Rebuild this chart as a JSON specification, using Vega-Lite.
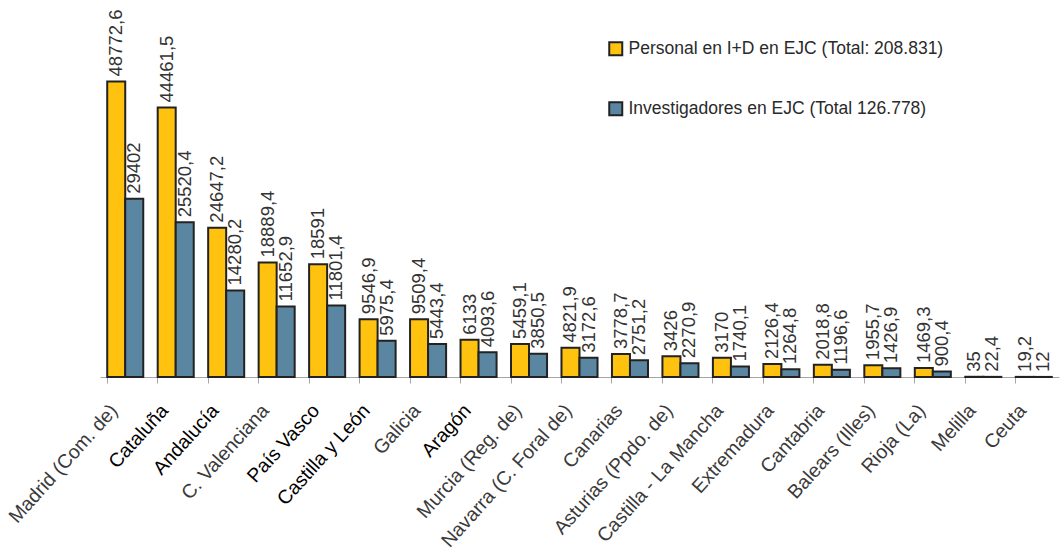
{
  "$schema": "https://vega.github.io/schema/vega-lite/v6.json",
  "width": 959,
  "height": 303,
  "autosize": "none",
  "padding": {"left": 100, "top": 74, "right": 3, "bottom": 176},
  "background": "white",
  "config": {
    "view": {"stroke": null},
    "font": "Liberation Sans",
    "locale": {"number": {"decimal": ",", "thousands": ".", "grouping": [3], "currency": ["", "€"]}}
  },
  "data": {"values": [
    {"region": "Madrid (Com. de)", "serie": "Personal en I+D en EJC (Total: 208.831)", "v": 48772.6},
    {"region": "Madrid (Com. de)", "serie": "Investigadores en EJC (Total 126.778)", "v": 29402},
    {"region": "Cataluña", "serie": "Personal en I+D en EJC (Total: 208.831)", "v": 44461.5},
    {"region": "Cataluña", "serie": "Investigadores en EJC (Total 126.778)", "v": 25520.4},
    {"region": "Andalucía", "serie": "Personal en I+D en EJC (Total: 208.831)", "v": 24647.2},
    {"region": "Andalucía", "serie": "Investigadores en EJC (Total 126.778)", "v": 14280.2},
    {"region": "C. Valenciana", "serie": "Personal en I+D en EJC (Total: 208.831)", "v": 18889.4},
    {"region": "C. Valenciana", "serie": "Investigadores en EJC (Total 126.778)", "v": 11652.9},
    {"region": "País Vasco", "serie": "Personal en I+D en EJC (Total: 208.831)", "v": 18591},
    {"region": "País Vasco", "serie": "Investigadores en EJC (Total 126.778)", "v": 11801.4},
    {"region": "Castilla y León", "serie": "Personal en I+D en EJC (Total: 208.831)", "v": 9546.9},
    {"region": "Castilla y León", "serie": "Investigadores en EJC (Total 126.778)", "v": 5975.4},
    {"region": "Galicia", "serie": "Personal en I+D en EJC (Total: 208.831)", "v": 9509.4},
    {"region": "Galicia", "serie": "Investigadores en EJC (Total 126.778)", "v": 5443.4},
    {"region": "Aragón", "serie": "Personal en I+D en EJC (Total: 208.831)", "v": 6133},
    {"region": "Aragón", "serie": "Investigadores en EJC (Total 126.778)", "v": 4093.6},
    {"region": "Murcia (Reg. de)", "serie": "Personal en I+D en EJC (Total: 208.831)", "v": 5459.1},
    {"region": "Murcia (Reg. de)", "serie": "Investigadores en EJC (Total 126.778)", "v": 3850.5},
    {"region": "Navarra (C. Foral de)", "serie": "Personal en I+D en EJC (Total: 208.831)", "v": 4821.9},
    {"region": "Navarra (C. Foral de)", "serie": "Investigadores en EJC (Total 126.778)", "v": 3172.6},
    {"region": "Canarias", "serie": "Personal en I+D en EJC (Total: 208.831)", "v": 3778.7},
    {"region": "Canarias", "serie": "Investigadores en EJC (Total 126.778)", "v": 2751.2},
    {"region": "Asturias (Ppdo. de)", "serie": "Personal en I+D en EJC (Total: 208.831)", "v": 3426},
    {"region": "Asturias (Ppdo. de)", "serie": "Investigadores en EJC (Total 126.778)", "v": 2270.9},
    {"region": "Castilla - La Mancha", "serie": "Personal en I+D en EJC (Total: 208.831)", "v": 3170},
    {"region": "Castilla - La Mancha", "serie": "Investigadores en EJC (Total 126.778)", "v": 1740.1},
    {"region": "Extremadura", "serie": "Personal en I+D en EJC (Total: 208.831)", "v": 2126.4},
    {"region": "Extremadura", "serie": "Investigadores en EJC (Total 126.778)", "v": 1264.8},
    {"region": "Cantabria", "serie": "Personal en I+D en EJC (Total: 208.831)", "v": 2018.8},
    {"region": "Cantabria", "serie": "Investigadores en EJC (Total 126.778)", "v": 1196.6},
    {"region": "Balears (Illes)", "serie": "Personal en I+D en EJC (Total: 208.831)", "v": 1955.7},
    {"region": "Balears (Illes)", "serie": "Investigadores en EJC (Total 126.778)", "v": 1426.9},
    {"region": "Rioja (La)", "serie": "Personal en I+D en EJC (Total: 208.831)", "v": 1469.3},
    {"region": "Rioja (La)", "serie": "Investigadores en EJC (Total 126.778)", "v": 900.4},
    {"region": "Melilla", "serie": "Personal en I+D en EJC (Total: 208.831)", "v": 35},
    {"region": "Melilla", "serie": "Investigadores en EJC (Total 126.778)", "v": 22.4},
    {"region": "Ceuta", "serie": "Personal en I+D en EJC (Total: 208.831)", "v": 19.2},
    {"region": "Ceuta", "serie": "Investigadores en EJC (Total 126.778)", "v": 12}
  ]},
  "encoding": {
    "x": {
      "field": "region", "type": "nominal", "sort": null,
      "scale": {"paddingInner": 0.286, "paddingOuter": 0.143},
      "axis": {
        "title": null,
        "bandPosition": 0,
        "labelOffset": -11,
        "labelAngle": -48,
        "labelFontSize": 19.5,
        "labelLimit": 400,
        "labelColor": {"condition": {"test": "indexof(['Cataluña','Andalucía','País Vasco','Castilla y León','Aragón'], datum.value) >= 0", "value": "#000000"}, "value": "#3a3a3a"},
        "domainColor": "#a6a6a6",
        "tickColor": "#a6a6a6",
        "tickSize": 6,
        "labelPadding": 24
      }
    },
    "xOffset": {"field": "serie", "type": "nominal", "sort": ["Personal en I+D en EJC (Total: 208.831)", "Investigadores en EJC (Total 126.778)"]},
    "y": {"field": "v", "type": "quantitative", "scale": {"domain": [0, 50000]}, "axis": null}
  },
  "layer": [
    {
      "mark": {"type": "bar", "stroke": "#222222", "strokeWidth": 2},
      "encoding": {
        "color": {
          "field": "serie", "type": "nominal",
          "sort": ["Personal en I+D en EJC (Total: 208.831)", "Investigadores en EJC (Total 126.778)"],
          "scale": {"range": ["#ffc20e", "#5b86a2"]},
          "legend": {
            "title": null,
            "orient": "none",
            "legendX": 507,
            "legendY": -34,
            "padding": 0,
            "symbolType": "square",
            "symbolSize": 169,
            "symbolStrokeColor": "#222222",
            "symbolStrokeWidth": 2,
            "symbolOpacity": 1,
            "labelFontSize": 17.5,
            "labelColor": "#2a2a2a",
            "labelOffset": 4,
            "rowPadding": 38,
            "labelLimit": 500
          }
        }
      }
    },
    {
      "mark": {"type": "text", "angle": -90, "align": "left", "baseline": "middle", "dx": 5, "fontSize": 18.5, "color": "#333333"},
      "encoding": {
        "text": {"field": "v", "type": "quantitative", "format": "~f"}
      }
    }
  ]
}
